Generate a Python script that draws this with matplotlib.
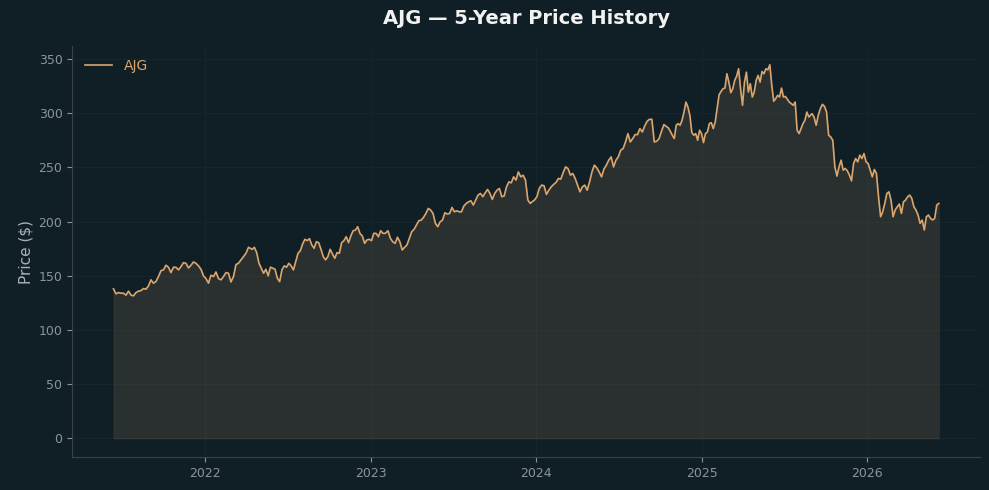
import matplotlib
matplotlib.use("Agg")
import matplotlib.pyplot as plt
import matplotlib.dates as mdates
import pandas as pd
import numpy as np

# colours
bg = '#101f26'
line_color = '#dba56e'
grid_color = '#15252b'
spine_color = '#3b4346'
tick_color = '#8c9497'

ticker = "AJG"

# price readings, split into stretches with their start / end dates
span_1 = ("2021-06-12", "2022-04-06")
price_1 = [138, 133.4, 134.6, 134, 134, 132.2, 135.9, 132.2, 131.6, 134.6, 135.9, 136.4, 138.3, 137.7,
           140.8, 146.3, 143.2, 144.8, 149.3, 154.8, 155.5, 159.8, 157.9, 153, 157.9, 157.9, 155.5,
           158.5, 162.2, 161.6, 157.3, 159.8, 162.8, 161.6, 159.2, 156.1, 150, 147.5, 143.2, 150.6,
           149.3, 153.6, 147.5, 146.3, 149.3, 153, 152.4, 144.4, 149.3, 160.4, 161.6, 164.7, 167.7,
           170.8, 176.3]

span_2 = ("2022-04-14", "2023-02-02")
price_2 = [174.5, 176.3, 171.4, 161.6, 157, 152.4, 156.1, 150, 158, 157, 156.1, 147.8, 144.7, 155.5,
           159.2, 158, 161.6, 159.2, 155.5, 163.1, 170.8, 173.2, 179.4, 183.7, 182.5, 184.3, 178.5,
           175.4, 181.5, 180.6, 174.5, 167.7, 164.7, 167.7, 174.5, 170.2, 166.2, 171.4, 170.8, 180.6,
           182.5, 186.1, 180.6, 186.8, 191.6, 192.2, 195.3, 189, 186.8, 180, 183.1, 183.7, 182.5,
           189.2, 189.2, 186.1, 191.6, 189.2, 189.2]

span_3 = ("2023-02-08", "2023-12-19")
price_3 = [191.6, 184.6, 181.5, 180, 185.6, 181.5, 173.9, 176.3, 178.5, 184.6, 190.7, 192.9, 196.9,
           200.8, 201.4, 204, 207.6, 212.2, 210.7, 207.6, 198.4, 195.3, 199.9, 201.4, 208.2, 207,
           207.6, 213.1, 209.1, 210, 209.1, 209.1, 214.4, 216.8, 218.3, 219.2, 215.3, 219.9, 224.5,
           226, 223, 226.6, 229.7, 226, 220.5, 226, 229, 230.6, 223, 223.6, 232.1, 236.7, 235.8,
           241.3, 238.3, 245.9, 241.3, 242.8, 238.3, 219.9, 216.8]

span_4 = ("2023-12-23", "2024-10-09")
price_4 = [218.3, 219.9, 222.9, 230.6, 233.7, 233.1, 225.1, 229, 232.1, 234.3, 236.1, 239.8, 239.2,
           245.3, 250.5, 249, 242.9, 244.4, 239.8, 233.7, 227.5, 232.1, 233.7, 229, 236.7, 245.9,
           252.1, 249.7, 245.9, 241.3, 248.6, 252.1, 256.7, 259.7, 250.5, 256.7, 259.7, 265.9, 267.4,
           273.5, 281.2, 273.5, 276.6, 280.3, 280.3, 285.8, 282.7, 288.2, 292.5, 294.4, 294.4, 273.5,
           274.1, 276.6, 283.3, 289.5]

span_5 = ("2024-10-19", "2025-08-25")
price_5 = [286.4, 283.3, 279.7, 276.6, 288.9, 290.4, 288.9, 293.5, 301.1, 310.3, 305.7, 298.1, 282.2,
           279.7, 281.2, 275.1, 284.3, 281.2, 272.9, 281.2, 282.7, 290.4, 291.3, 285.8, 291.9, 304.2,
           317.1, 320.1, 322.6, 323.2, 336.4, 328.7, 318.9, 322.6, 330.3, 334.2, 341, 322.6, 307.3,
           328.7, 337.9, 319.5, 327.2, 314.9, 319.5, 330.3, 334.9, 328.7, 338.5, 336.4, 341, 340,
           344.7, 325.7, 311, 313.4, 316.5, 315, 323.2, 314.9, 315.5, 312.8, 310.3, 308.8, 307.3,
           310.3, 284.3, 281.2, 285.8, 290.4, 293.5, 301.1, 296.5]

span_6 = ("2025-09-01", "2026-06-08")
price_6 = [299.6, 296.5, 288.9, 298, 304.2, 308.2, 306.3, 301.1, 279.7, 278.1, 275, 250.5, 242, 250.5,
           256.7, 247.5, 249, 246.9, 242.9, 237.6, 253.6, 258.2, 255.1, 261.3, 258.2, 262.8, 255.1,
           253.6, 247.5, 241.3, 248.1, 244.4, 222.9, 204.5, 209.1, 216.8, 226, 227.5, 219.9, 204.5,
           210.7, 213.7, 216.2, 207.6, 218.3, 219.9, 222.9, 224.5, 221.4, 213.7, 210.7, 206.1, 198.4,
           201.5, 192.3, 204.5, 206.1, 203, 201.5, 203, 215.3, 216.8]

spans = [span_1, span_2, span_3, span_4, span_5, span_6]
prices = [price_1, price_2, price_3, price_4, price_5, price_6]

parts = []
for (start, end), p in zip(spans, prices):
    parts.append(pd.Series(p, index=pd.date_range(start, end, periods=len(p))))
series = pd.concat(parts)

plt.rcParams['font.family'] = ['DejaVu Sans']
fig, ax = plt.subplots(figsize=(9.89, 4.9), dpi=100)
fig.patch.set_facecolor(bg)
ax.set_facecolor(bg)

ax.fill_between(series.index, series.values, 0, color=line_color, alpha=0.13,
                edgecolor='#8a7a60', linewidth=0.8)
ax.plot(series.index, series.values, color=line_color, linewidth=1.2, label=ticker)

ax.set_title(f"{ticker} \u2014 5-Year Price History", color='#f2f2f2', fontsize=14,
             fontweight='bold', pad=16)
ax.set_ylabel("Price ($)", color='#aab1b4', fontsize=11)

ax.xaxis.set_major_locator(mdates.YearLocator())
ax.xaxis.set_major_formatter(mdates.DateFormatter('%Y'))
ax.tick_params(colors=tick_color, labelsize=9)
for s in ['top', 'right']:
    ax.spines[s].set_visible(False)
for s in ['left', 'bottom']:
    ax.spines[s].set_color(spine_color)
ax.grid(True, color=grid_color, linewidth=0.8)
ax.set_axisbelow(True)

leg = ax.legend(loc='upper left', frameon=False, fontsize=10)
for t in leg.get_texts():
    t.set_color(line_color)

plt.subplots_adjust(left=0.073, right=0.991, top=0.906, bottom=0.067)
plt.savefig("out.png", dpi=100, facecolor=bg)
